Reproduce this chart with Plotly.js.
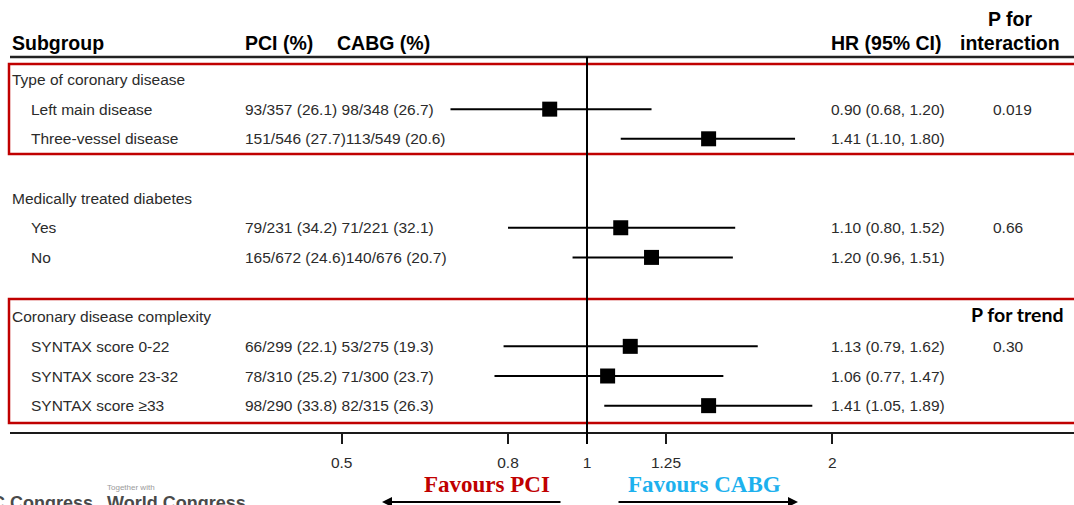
<!DOCTYPE html>
<html>
<head>
<meta charset="utf-8">
<script src="https://cdn.plot.ly/plotly-3.0.1.min.js"></script>
<style>
  html, body { margin: 0; padding: 0; background: #fff; }
  #chart { width: 1074px; height: 505px; }
</style>
</head>
<body>
<div id="chart"></div>
<script>
// Subgroup analysis: PCI vs CABG, hazard ratios on a log scale
const groupTitles = ['Type of coronary disease', 'Medically treated diabetes', 'Coronary disease complexity'];
const subgroups = ['Left main disease', 'Three-vessel disease', 'Yes', 'No',
                   'SYNTAX score 0-22', 'SYNTAX score 23-32', 'SYNTAX score \u226533'];
const subgroupGroup = [0, 0, 1, 1, 2, 2, 2];

const pciEvents = [93, 151, 79, 165, 66, 78, 98];
const pciTotals = [357, 546, 231, 672, 299, 310, 290];
const pciPct    = [26.1, 27.7, 34.2, 24.6, 22.1, 25.2, 33.8];
const cabgEvents = [98, 113, 71, 140, 53, 71, 82];
const cabgTotals = [348, 549, 221, 676, 275, 300, 315];
const cabgPct    = [26.7, 20.6, 32.1, 20.7, 19.3, 23.7, 26.3];

const hr     = [0.90, 1.41, 1.10, 1.20, 1.13, 1.06, 1.41];
const ciLow  = [0.68, 1.10, 0.80, 0.96, 0.79, 0.77, 1.05];
const ciHigh = [1.20, 1.80, 1.52, 1.51, 1.62, 1.47, 1.89];

const groupPValues = ['0.019', '0.66', '0.30'];
const groupPHeaders = [null, null, 'P for trend'];

const tickValues = [0.5, 0.8, 1, 1.25, 2];
const tickLabels = ['0.5', '0.8', '1', '1.25', '2'];

// ---- layout helpers (pixel -> paper) ----
const W = 1074, H = 505;
const px = x => x / W;
const py = y => 1 - y / H;
const ROW0 = 79.5, ROWH = 29.65;          // first row centre and row pitch in px
const yTop = -ROW0 / ROWH, yBot = (H - ROW0) / ROWH;

const FONT = 'Liberation Sans, Arial, sans-serif';
const TXT = '#2b2b2b';
const BODY = 15.5, HEAD = 19.5;

// row index for each group title and subgroup
const titleRow = groupTitles.map((_, g) => 4 * g);
const subRow = [];
const seen = [0, 0, 0];
subgroupGroup.forEach((g, i) => { subRow.push(titleRow[g] + 1 + seen[g]); seen[g]++; });

const annotations = [];
const base = { showarrow: false, borderpad: 0, borderwidth: 0 };
function txt(text, x, y, opts = {}) {
  annotations.push(Object.assign({
    text, x: px(x), xref: 'paper', y, yref: 'y',
    xanchor: 'left', yanchor: 'middle',
    font: { family: FONT, size: BODY, color: TXT }
  }, base, opts));
}
function ptxt(text, x, y, anchor, font, extra = {}) {
  annotations.push(Object.assign({
    text, x: px(x), y: py(y), xref: 'paper', yref: 'paper',
    xanchor: anchor, yanchor: 'middle', font
  }, base, extra));
}

// column headers
const headFont = { family: FONT, size: HEAD, color: '#000', weight: 700 };
ptxt('Subgroup', 12, 43, 'left', headFont);
ptxt('PCI (%)', 245, 43, 'left', headFont);
ptxt('CABG (%)', 337, 43, 'left', headFont);
ptxt('HR (95% CI)', 831, 43, 'left', headFont);
ptxt('P for', 1010, 19, 'center', headFont);
ptxt('interaction', 1010, 43, 'center', headFont);

// group titles, p values
groupTitles.forEach((t, g) => {
  txt(t, 12, titleRow[g]);
  const firstSub = subgroupGroup.indexOf(g);
  txt(groupPValues[g], 993, subRow[firstSub]);
  if (groupPHeaders[g]) {
    txt(groupPHeaders[g], 1064, titleRow[g] - 0.08, {
      xanchor: 'right',
      font: { family: 'Lato, Carlito, sans-serif', size: 19.5, color: '#000', weight: 700 }
    });
  }
});

// subgroup rows
subgroups.forEach((s, i) => {
  const y = subRow[i];
  txt(s, 31, y);
  const pci = `${pciEvents[i]}/${pciTotals[i]} (${pciPct[i].toFixed(1)})`;
  const cabg = `${cabgEvents[i]}/${cabgTotals[i]} (${cabgPct[i].toFixed(1)})`;
  const gap = pci.length < 14 ? '\u00a0' : '';
  txt(pci + gap + cabg, 245, y);
  txt(`${hr[i].toFixed(2)} (${ciLow[i].toFixed(2)}, ${ciHigh[i].toFixed(2)})`, 831, y);
});

// favours labels and arrows
const favFont = c => ({ family: 'Liberation Serif, Times New Roman, serif', size: 23, color: c, weight: 700 });
ptxt('Favours PCI', 487, 484, 'center', favFont('#c00000'));
ptxt('Favours CABG', 704, 484, 'center', favFont('#1db1ee'));
annotations.push(
  { text: '', x: px(382), y: py(502), xref: 'paper', yref: 'paper', ax: 180, ay: 0, axref: 'pixel', ayref: 'pixel',
    showarrow: true, arrowhead: 2, arrowsize: 1, arrowwidth: 2, arrowcolor: '#000', standoff: 0, startstandoff: 0 },
  { text: '', x: px(798), y: py(502), xref: 'paper', yref: 'paper', ax: -181, ay: 0, axref: 'pixel', ayref: 'pixel',
    showarrow: true, arrowhead: 2, arrowsize: 1, arrowwidth: 2, arrowcolor: '#000', standoff: 0, startstandoff: 0 }
);

// congress footer
ptxt('Together with', 131, 487, 'center', { family: FONT, size: 8, color: '#9a9a9a' });
const footFont = { family: FONT, size: 18, color: '#4a4a4a', weight: 700 };
ptxt('ESC Congress', 93, 493, 'right', footFont, { yanchor: 'top' });
ptxt('World Congress', 107, 493, 'left', footFont, { yanchor: 'top' });

const shapes = [
  // header rule
  { type: 'line', xref: 'paper', yref: 'paper', x0: px(10), x1: 1.01, y0: py(57), y1: py(57), line: { color: '#222', width: 2.5 } },
  // highlighted groups
  { type: 'rect', xref: 'paper', yref: 'paper', x0: px(9), x1: 1.02, y0: py(64), y1: py(154), line: { color: '#c00000', width: 2.5 } },
  { type: 'rect', xref: 'paper', yref: 'paper', x0: px(9), x1: 1.02, y0: py(299), y1: py(423), line: { color: '#c00000', width: 2.5 } },
  // reference line at HR = 1
  { type: 'line', xref: 'x', yref: 'paper', x0: 1, x1: 1, y0: py(444), y1: py(57), line: { color: '#000', width: 2 } }
];

const trace = {
  type: 'scatter', mode: 'markers',
  x: hr, y: subRow,
  marker: { symbol: 'square', size: 15, color: '#000' },
  error_x: {
    type: 'data', symmetric: false,
    array: hr.map((v, i) => ciHigh[i] - v),
    arrayminus: hr.map((v, i) => v - ciLow[i]),
    width: 0, thickness: 2, color: '#000'
  },
  hoverinfo: 'skip', showlegend: false
};

// log axis: 815 px per decade, HR = 1 at x = 587 px
const DEC = 815, X1 = 587;
const layout = {
  width: W, height: H,
  margin: { l: 0, r: 0, t: 0, b: 0, pad: 0 },
  paper_bgcolor: '#fff', plot_bgcolor: '#fff',
  showlegend: false,
  xaxis: {
    type: 'log', domain: [px(10), 1],
    range: [(10 - X1) / DEC, (W - X1) / DEC],
    anchor: 'free', position: py(433),
    showline: true, linecolor: '#1a1a1a', linewidth: 2,
    ticks: 'outside', ticklen: 10, tickwidth: 2, tickcolor: '#1a1a1a',
    tickvals: tickValues, ticktext: tickLabels,
    tickfont: { family: FONT, size: BODY, color: TXT },
    ticklabelstandoff: 5,
    showgrid: false, zeroline: false, fixedrange: true
  },
  yaxis: {
    range: [yBot, yTop], domain: [0, 1],
    visible: false, showgrid: false, zeroline: false, fixedrange: true
  },
  shapes, annotations
};

Plotly.newPlot('chart', [trace], layout, { displayModeBar: false, staticPlot: true });
</script>
</body>
</html>
